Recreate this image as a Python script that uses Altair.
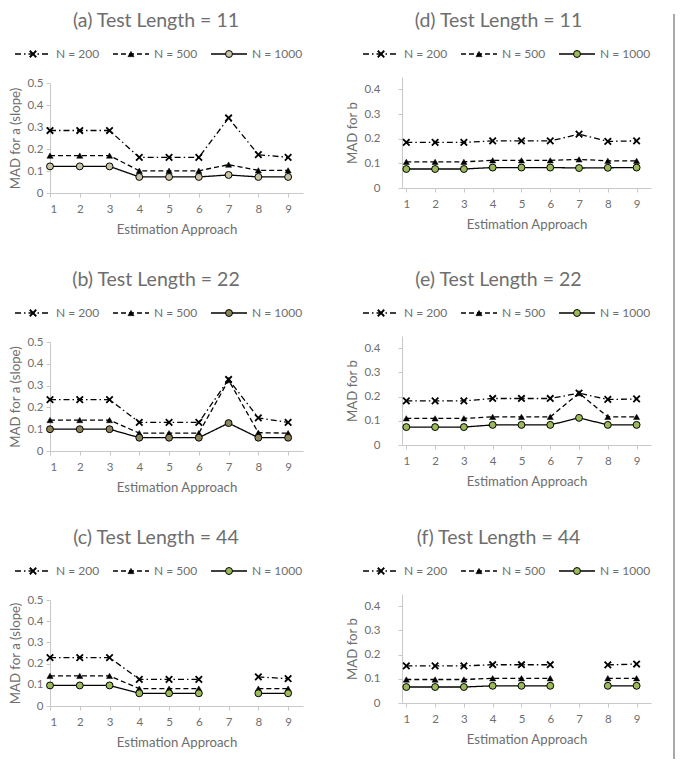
import altair as alt
import pandas as pd

approach = [1, 2, 3, 4, 5, 6, 7, 8, 9]
series_names = ["N = 200", "N = 500", "N = 1000"]

# (a) Test Length = 11, MAD for a
a_n200 = [0.284, 0.284, 0.284, 0.162, 0.162, 0.162, 0.341, 0.174, 0.162]
a_n500 = [0.170, 0.170, 0.170, 0.101, 0.101, 0.101, 0.129, 0.103, 0.103]
a_n1000 = [0.121, 0.121, 0.121, 0.073, 0.073, 0.073, 0.082, 0.073, 0.073]
# (d) Test Length = 11, MAD for b
d_n200 = [0.185, 0.185, 0.185, 0.191, 0.191, 0.191, 0.218, 0.189, 0.191]
d_n500 = [0.106, 0.106, 0.106, 0.112, 0.112, 0.112, 0.116, 0.110, 0.110]
d_n1000 = [0.077, 0.077, 0.077, 0.083, 0.083, 0.083, 0.081, 0.082, 0.083]
# (b) Test Length = 22, MAD for a
b_n200 = [0.236, 0.236, 0.236, 0.131, 0.131, 0.131, 0.328, 0.152, 0.131]
b_n500 = [0.142, 0.142, 0.142, 0.082, 0.082, 0.082, 0.325, 0.084, 0.082]
b_n1000 = [0.100, 0.100, 0.100, 0.061, 0.061, 0.061, 0.128, 0.061, 0.061]
# (e) Test Length = 22, MAD for b
e_n200 = [0.182, 0.182, 0.182, 0.192, 0.192, 0.192, 0.214, 0.188, 0.190]
e_n500 = [0.110, 0.110, 0.110, 0.116, 0.116, 0.116, 0.214, 0.116, 0.116]
e_n1000 = [0.074, 0.074, 0.074, 0.083, 0.083, 0.083, 0.112, 0.083, 0.083]
# (c) Test Length = 44, MAD for a (approach 7 missing)
c_n200 = [0.228, 0.228, 0.228, 0.126, 0.126, 0.126, None, 0.137, 0.129]
c_n500 = [0.142, 0.142, 0.142, 0.082, 0.082, 0.082, None, 0.082, 0.082]
c_n1000 = [0.097, 0.097, 0.097, 0.060, 0.060, 0.060, None, 0.060, 0.060]
# (f) Test Length = 44, MAD for b (approach 7 missing)
f_n200 = [0.153, 0.153, 0.153, 0.158, 0.158, 0.158, None, 0.157, 0.161]
f_n500 = [0.097, 0.097, 0.097, 0.102, 0.102, 0.102, None, 0.102, 0.102]
f_n1000 = [0.066, 0.066, 0.066, 0.071, 0.071, 0.071, None, 0.071, 0.071]

TEXT = "#6e6e6e"
AXIS = "#c8c8c8"
FONT = "Lato"
XPATH = "M-1,-1L1,1M-1,1L1,-1"
DASHES = [[6, 3, 1.5, 3], [5, 3], [1, 0]]


def series_layers(base, xenc, yenc, fill):
    x_pts = base.transform_filter(alt.datum.series == series_names[0]).mark_point(
        shape=XPATH, filled=False, stroke="black", strokeWidth=1.8, size=42, opacity=1
    ).encode(x=xenc, y=yenc)
    t_pts = base.transform_filter(alt.datum.series == series_names[1]).mark_point(
        shape="triangle-up", filled=True, fill="black", stroke="black", strokeWidth=0.5, size=38, opacity=1
    ).encode(x=xenc, y=yenc)
    c_pts = base.transform_filter(alt.datum.series == series_names[2]).mark_point(
        shape="circle", filled=True, fill=fill, stroke="black", strokeWidth=1, size=48, opacity=1
    ).encode(x=xenc, y=yenc)
    return [x_pts, t_pts, c_pts]


def legend_chart(width, offset, fill):
    df = pd.DataFrame({"series": series_names, "idx": [0, 1, 2]})
    base = alt.Chart(df).transform_calculate(
        x0=f"{offset} + datum.idx * 98",
        x1=f"{offset} + datum.idx * 98 + 36",
        xm=f"{offset} + datum.idx * 98 + 18",
        xt=f"{offset} + datum.idx * 98 + 41",
        y0="0.5",
    )
    xs = alt.Scale(domain=[0, width], nice=False, zero=False)
    ys = alt.Scale(domain=[0, 1])
    line = base.mark_rule(color="black", strokeWidth=1.3).encode(
        x=alt.X("x0:Q", scale=xs, axis=None),
        x2="x1:Q",
        y=alt.Y("y0:Q", scale=ys, axis=None),
        strokeDash=alt.StrokeDash("series:N", scale=alt.Scale(domain=series_names, range=DASHES), legend=None),
    )
    xm = alt.X("xm:Q", scale=xs, axis=None)
    ym = alt.Y("y0:Q", scale=ys, axis=None)
    pts = series_layers(base, xm, ym, fill)
    txt = base.mark_text(align="left", baseline="middle", font=FONT, fontSize=12, fill=TEXT).encode(
        x=alt.X("xt:Q", scale=xs, axis=None), y=ym, text="series:N"
    )
    return alt.layer(line, *pts, txt).properties(width=width, height=14)


def panel(title, vals, ytitle, ymax, height, width, xdomain, fill, label_pad, leg_off):
    rows = []
    for name, v in zip(series_names, vals):
        for ap, val in zip(approach, v):
            rows.append({"approach": ap, "series": name, "value": val})
    df = pd.DataFrame(rows)
    base = alt.Chart(df)
    yticks = [0, 0.1, 0.2, 0.3, 0.4, 0.5] if ymax >= 0.5 else [0, 0.1, 0.2, 0.3, 0.4]
    xenc = alt.X(
        "approach:Q",
        scale=alt.Scale(domain=xdomain, nice=False, zero=False),
        axis=alt.Axis(values=approach, title="Estimation Approach", format="d",
                      labelPadding=6, titlePadding=9, tickSize=4),
    )
    yenc = alt.Y(
        "value:Q",
        scale=alt.Scale(domain=[0, ymax], nice=False),
        axis=alt.Axis(values=yticks, format=".1~f", title=ytitle, labelPadding=label_pad,
                      titlePadding=4, tickSize=4),
    )
    line = base.mark_line(color="black", strokeWidth=1.3, invalid="break-paths-show-domains").encode(
        x=xenc,
        y=yenc,
        strokeDash=alt.StrokeDash("series:N", scale=alt.Scale(domain=series_names, range=DASHES), legend=None),
        detail="series:N",
    )
    pts = series_layers(base, xenc, yenc, fill)
    plot = alt.layer(line, *pts).properties(width=width, height=height)
    leg = legend_chart(width, leg_off, fill)
    return alt.vconcat(leg, plot, spacing=16).properties(
        title=alt.TitleParams(title, anchor="middle", fontSize=19.5, font=FONT, color=TEXT,
                              fontWeight="normal", offset=16)
    )


TAN = "#c9c4a6"
OLIVE = "#8c8459"
GREEN = "#9bbb59"

LEFT_DOM = [1, 9.5]
RIGHT_DOM = [0.85, 9.5]

pa = panel("(a) Test Length = 11", [a_n200, a_n500, a_n1000], "MAD for a (slope)", 0.5, 110, 253, LEFT_DOM, TAN, 3, -35)
pd_ = panel("(d) Test Length = 11", [d_n200, d_n500, d_n1000], "MAD for b", 0.45, 111, 249, RIGHT_DOM, GREEN, 18, -39)
pb = panel("(b) Test Length = 22", [b_n200, b_n500, b_n1000], "MAD for a (slope)", 0.5, 109, 253, LEFT_DOM, OLIVE, 3, -35)
pe = panel("(e) Test Length = 22", [e_n200, e_n500, e_n1000], "MAD for b", 0.45, 109, 249, RIGHT_DOM, GREEN, 18, -39)
pc = panel("(c) Test Length = 44", [c_n200, c_n500, c_n1000], "MAD for a (slope)", 0.5, 106, 253, LEFT_DOM, GREEN, 3, -35)
pf = panel("(f) Test Length = 44", [f_n200, f_n500, f_n1000], "MAD for b", 0.45, 109, 249, RIGHT_DOM, GREEN, 18, -39)

grid = alt.vconcat(
    alt.hconcat(pa, pd_, spacing=42),
    alt.hconcat(pb, pe, spacing=42),
    alt.hconcat(pc, pf, spacing=42),
    spacing=33,
)

vline = alt.Chart(pd.DataFrame({"k": [0]})).mark_rule(color="#8c8c8c", strokeWidth=1.5).encode(
    x=alt.value(0), y=alt.value(-33), y2=alt.value(712)
).properties(width=1, height=600)

chart = alt.hconcat(grid, vline, spacing=22).properties(
    padding={"left": 0, "top": 2, "right": 0, "bottom": 0}
).configure_view(stroke=None).configure_axis(
    grid=False,
    domainColor=AXIS,
    tickColor=AXIS,
    labelColor=TEXT,
    titleColor=TEXT,
    labelFont=FONT,
    titleFont=FONT,
    labelFontSize=11.5,
    titleFontSize=13.2,
    titleFontWeight="normal",
)

chart.save("out.html", embed_options={"renderer": "svg", "actions": False})
